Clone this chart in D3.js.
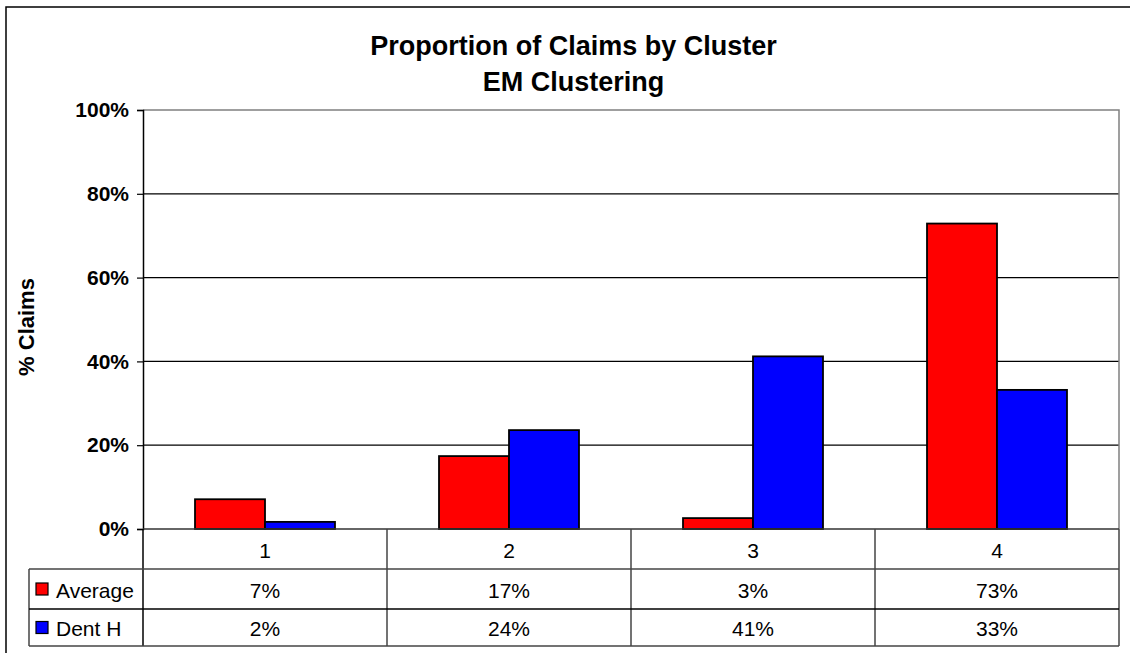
<!DOCTYPE html>
<html>
<head>
<meta charset="utf-8">
<script src="https://cdn.jsdelivr.net/npm/d3@7"></script>
<style>
  body { margin: 0; background: #fff; }
  svg { display: block; font-family: "Liberation Sans", Arial, sans-serif; }
</style>
</head>
<body>
<div id="chart"></div>
<script>
// data
var clusters = ["1", "2", "3", "4"];
var seriesNames = ["Average", "Dent H"];
var averageVals = [0.071, 0.174, 0.026, 0.729];
var dentHVals = [0.017, 0.236, 0.412, 0.332];
var yTicks = [0, 0.2, 0.4, 0.6, 0.8, 1.0];
var colors = ["#ff0000", "#0000ff"];

var seriesVals = [averageVals, dentHVals];

var W = 1130, H = 653;
var plot = {left: 143, right: 1119, top: 110, bottom: 529};
var table = {left: 29, rows: [529, 569, 609, 646]};

var svg = d3.select("#chart")
  .append("svg")
    .attr("width", W)
    .attr("height", H);

// outer chart border
svg.append("rect")
  .attr("x", 6).attr("y", 7)
  .attr("width", 1140).attr("height", 680)
  .attr("fill", "none")
  .attr("stroke", "#000")
  .attr("stroke-width", 1.5);

// title
var title = svg.append("text")
  .attr("text-anchor", "middle")
  .attr("font-weight", "bold")
  .attr("font-size", 27);
title.append("tspan").attr("x", 573.5).attr("y", 55).text("Proportion of Claims by Cluster");
title.append("tspan").attr("x", 573.5).attr("y", 91).text("EM Clustering");

// scales
var x = d3.scaleBand()
  .domain(clusters)
  .range([plot.left, plot.right]);

var x1 = d3.scaleBand()
  .domain(seriesNames)
  .range([0, x.bandwidth()])
  .paddingOuter(0.743);

var y = d3.scaleLinear()
  .domain([0, 1])
  .range([plot.bottom, plot.top]);

// gridlines
svg.append("g")
  .selectAll("line")
  .data(yTicks.filter(function(d) { return d > 0 && d < 1; }))
  .enter()
  .append("line")
    .attr("x1", plot.left).attr("x2", plot.right)
    .attr("y1", function(d) { return y(d); })
    .attr("y2", function(d) { return y(d); })
    .attr("stroke", "#000")
    .attr("stroke-width", 1.2);

// plot border top/right (grey)
svg.append("path")
  .attr("d", "M" + plot.left + "," + plot.top + "H" + plot.right + "V" + plot.bottom)
  .attr("fill", "none")
  .attr("stroke", "#808080")
  .attr("stroke-width", 1.5);

// y axis
var yAxis = svg.append("g")
  .attr("transform", "translate(" + plot.left + ",0)")
  .call(d3.axisLeft(y).tickValues(yTicks).tickFormat(d3.format(".0%")).tickSize(6).tickPadding(8));
yAxis.select(".domain").attr("stroke", "#000").attr("stroke-width", 1.5);
yAxis.selectAll(".tick line").attr("stroke", "#000").attr("stroke-width", 1.2);
yAxis.selectAll("text")
  .attr("font-size", 21)
  .attr("font-weight", "bold")
  .attr("font-family", "Liberation Sans, Arial, sans-serif")
  .attr("fill", "#000");

// y axis title
svg.append("text")
  .attr("transform", "translate(34,327) rotate(-90)")
  .attr("text-anchor", "middle")
  .attr("font-weight", "bold")
  .attr("font-size", 22)
  .text("% Claims");

// bars
var groups = svg.append("g")
  .selectAll("g")
  .data(seriesNames)
  .enter()
  .append("g")
    .attr("fill", function(d, i) { return colors[i]; });

groups.selectAll("rect")
  .data(function(d, i) {
    return clusters.map(function(c, j) { return {cluster: c, series: d, value: seriesVals[i][j]}; });
  })
  .enter()
  .append("rect")
    .attr("x", function(d) { return x(d.cluster) + x1(d.series); })
    .attr("width", x1.bandwidth())
    .attr("y", function(d) { return y(d.value); })
    .attr("height", function(d) { return y(0) - y(d.value); })
    .attr("stroke", "#000")
    .attr("stroke-width", 1.8);

// baseline
svg.append("line")
  .attr("x1", plot.left).attr("x2", plot.right)
  .attr("y1", plot.bottom).attr("y2", plot.bottom)
  .attr("stroke", "#333")
  .attr("stroke-width", 1.5);

// data table
var tbl = svg.append("g");
var lineCol = "#444";

// vertical separators
var vx = clusters.map(function(c) { return x(c); }).concat([plot.right]);
tbl.selectAll("line.v")
  .data(vx)
  .enter()
  .append("line")
    .attr("class", "v")
    .attr("x1", function(d) { return d; }).attr("x2", function(d) { return d; })
    .attr("y1", table.rows[0]).attr("y2", table.rows[3])
    .attr("stroke", function(d, i) { return i === 0 ? "#000" : lineCol; })
    .attr("stroke-width", 1.5);

// left edge of legend column
tbl.append("line")
  .attr("x1", table.left).attr("x2", table.left)
  .attr("y1", table.rows[1]).attr("y2", table.rows[3])
  .attr("stroke", lineCol).attr("stroke-width", 1.5);

// horizontal rules
tbl.selectAll("line.h")
  .data([table.rows[1], table.rows[2], table.rows[3]])
  .enter()
  .append("line")
    .attr("class", "h")
    .attr("x1", table.left).attr("x2", plot.right)
    .attr("y1", function(d) { return d; }).attr("y2", function(d) { return d; })
    .attr("stroke", function(d, i) { return i === 1 ? "#000" : lineCol; })
    .attr("stroke-width", 1.5);

// category labels
tbl.selectAll("text.cat")
  .data(clusters)
  .enter()
  .append("text")
    .attr("class", "cat")
    .attr("x", function(d) { return x(d) + x.bandwidth() / 2; })
    .attr("y", (table.rows[0] + table.rows[1]) / 2 + 1)
    .attr("text-anchor", "middle")
    .attr("dominant-baseline", "central")
    .attr("font-size", 21)
    .text(function(d) { return d; });

var fmt = d3.format(".0%");

seriesNames.forEach(function(name, i) {
  var cy = (table.rows[i + 1] + table.rows[i + 2]) / 2;
  // legend key
  tbl.append("rect")
    .attr("x", 36).attr("y", cy - 6)
    .attr("width", 12).attr("height", 12)
    .attr("fill", colors[i])
    .attr("stroke", "#000")
    .attr("stroke-width", 1.2);
  tbl.append("text")
    .attr("x", 56).attr("y", cy + 1)
    .attr("dominant-baseline", "central")
    .attr("font-size", 21)
    .text(name);
  tbl.selectAll("text.val" + i)
    .data(seriesVals[i])
    .enter()
    .append("text")
      .attr("class", "val" + i)
      .attr("x", function(d, j) { return x(clusters[j]) + x.bandwidth() / 2; })
      .attr("y", cy + 1)
      .attr("text-anchor", "middle")
      .attr("dominant-baseline", "central")
      .attr("font-size", 21)
      .text(function(d) { return fmt(d); });
});
</script>
</body>
</html>
